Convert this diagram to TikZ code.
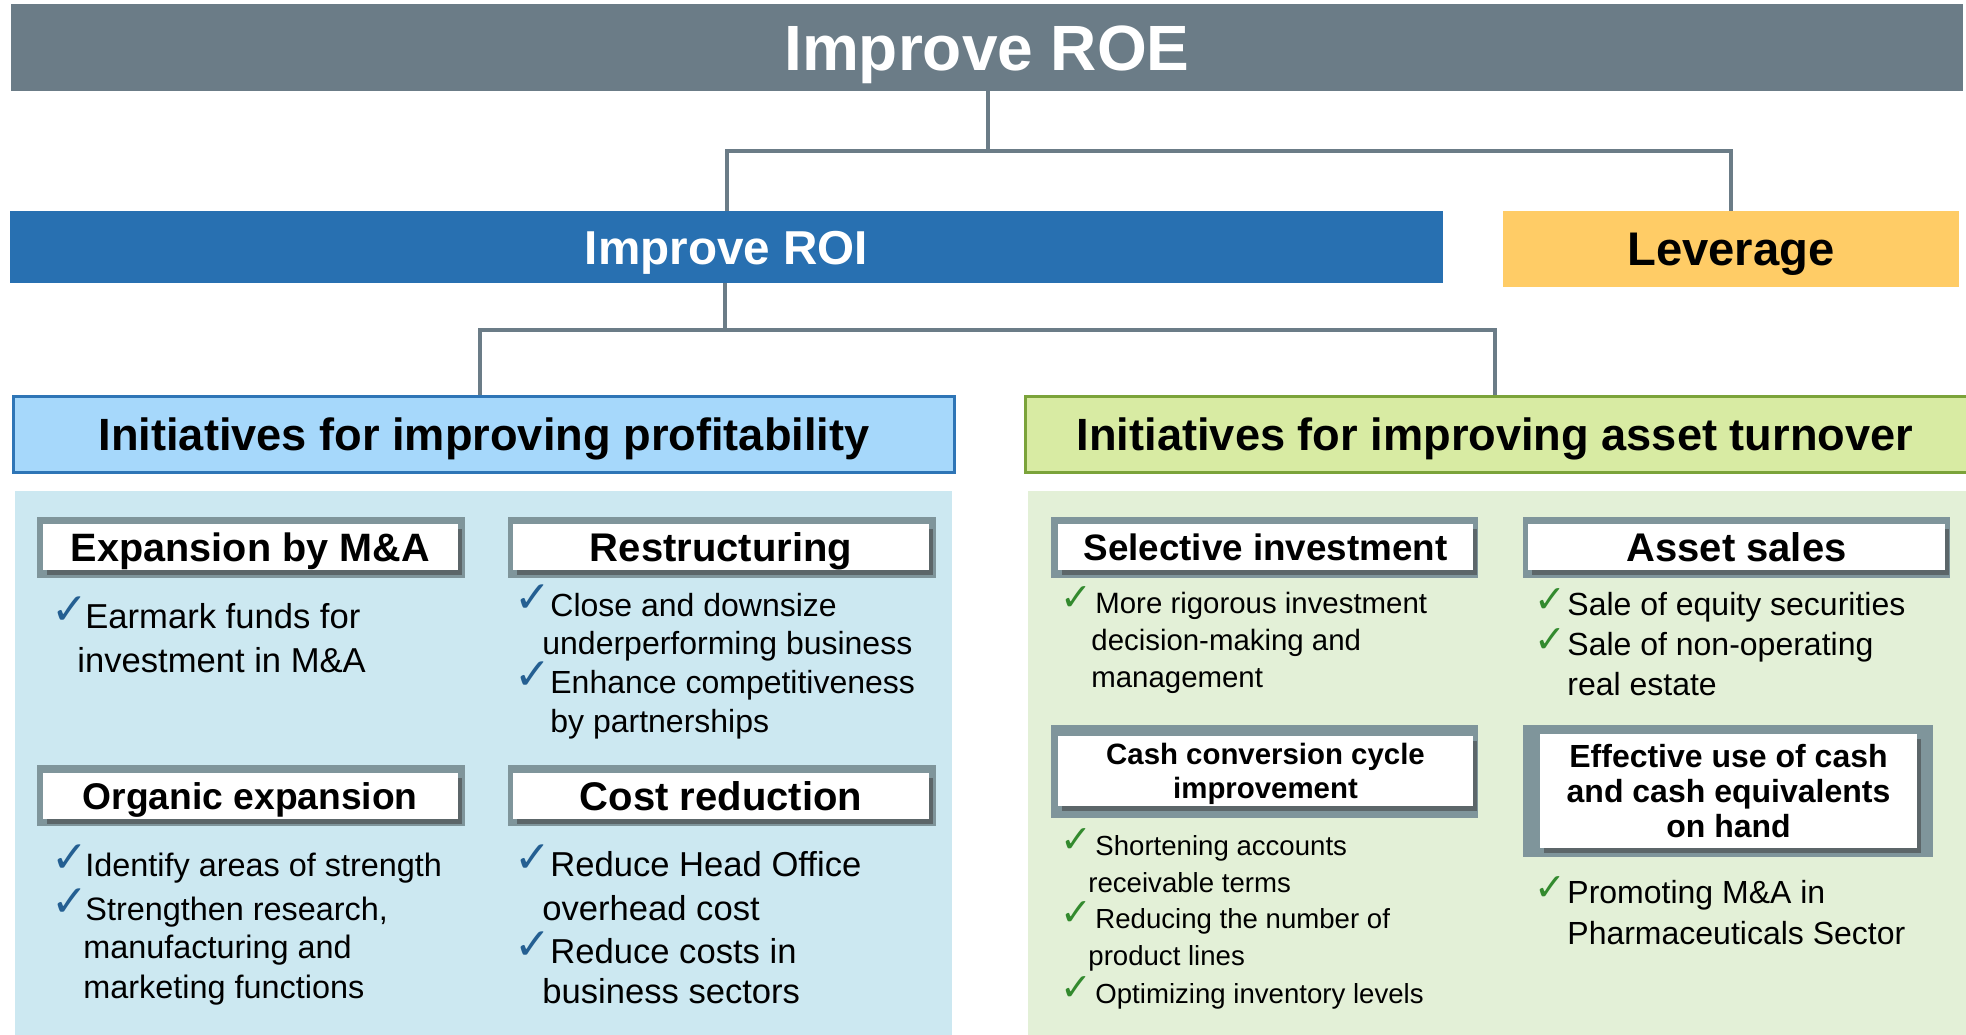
\documentclass[tikz,border=0pt]{standalone}
\usepackage{fontspec}
\setmainfont{Liberation Sans}
\newfontfamily\symfont{DejaVu Sans}
\usetikzlibrary{shadows}
\definecolor{roegray}{HTML}{6B7C87}
\definecolor{roiblue}{HTML}{2870B1}
\definecolor{levyellow}{HTML}{FFCC66}
\definecolor{proffill}{HTML}{A6D8FB}
\definecolor{profdraw}{HTML}{2E75B6}
\definecolor{panelblue}{HTML}{CCE8F1}
\definecolor{turnfill}{HTML}{D8EBA3}
\definecolor{turndraw}{HTML}{7BA33A}
\definecolor{panelgreen}{HTML}{E3F0D7}
\definecolor{framegray}{HTML}{7F959B}
\definecolor{chkblue}{HTML}{245F92}
\definecolor{chkgreen}{HTML}{338A2E}
\newcommand\myfs[1]{\fontsize{#1}{1.2\dimexpr #1pt\relax}\selectfont}
\tikzset{
  bar/.style={inner sep=0pt, anchor=center, font=\bfseries, text depth=0pt},
  framebox/.style={fill=framegray, inner sep=0pt, anchor=center},
  hbox/.style={fill=white, inner sep=0pt, anchor=center, align=center, font=\bfseries,
    drop shadow={shadow xshift=2pt, shadow yshift=-2.5pt, opacity=0.55, fill=black!75}},
  conn/.style={draw=roegray, line width=2pt},
  btext/.style={anchor=base west, inner sep=0pt},
  chkb/.style={anchor=base west, inner sep=0pt, text=chkblue, font=\symfont\fontsize{22}{22}\selectfont},
  chkg/.style={anchor=base west, inner sep=0pt, text=chkgreen, font=\symfont\fontsize{19}{19}\selectfont},
}
\begin{document}
\begin{tikzpicture}[x=0.5pt,y=-0.5pt]
\useasboundingbox (0,0) rectangle (1966,1034);
\clip (0,0) rectangle (1966,1034);
% top bars
\node[bar, fill=roegray, minimum width=976pt, minimum height=43.5pt, text=white, font=\bfseries\myfs{32}, text height=22.9pt] (roe) at (987,47.5) {Improve ROE};
\node[bar, fill=roiblue, minimum width=716.5pt, minimum height=36pt, text=white, font=\bfseries\myfs{23.8}, text height=17pt] (roi) at (726.5,247) {Improve ROI};
\node[bar, fill=levyellow, minimum width=228pt, minimum height=38pt, text=black, font=\bfseries\myfs{23.6}, text height=16.9pt] (lev) at (1731,249) {Leverage};
% connectors
\coordinate (j1) at (988,151);
\coordinate (j2) at (725,330);
\coordinate (j3) at (480,330);
\coordinate (j4) at (1495,330);
\draw[conn] (roe.south -| j1) -- (j1);
\draw[conn] (roi.north) -- (roi.north |- j1) -- (lev.north |- j1) -- (lev.north);
% panels
\fill[panelblue] (15,491) rectangle (952,1040);
\fill[panelgreen] (1028,491) rectangle (1970,1040);
% initiative boxes
\node[bar, fill=proffill, draw=profdraw, line width=1.5pt, minimum width=470.5pt, minimum height=38pt, font=\bfseries\myfs{22.6}, text height=16.2pt] (prof) at (484,434) {Initiatives for improving profitability};
\node[bar, fill=turnfill, draw=turndraw, line width=1.5pt, minimum width=475pt, minimum height=38pt] (turn) at (1500,434) {};
\node[bar, font=\bfseries\myfs{22.6}, text height=16.2pt] (turntxt) at (1495,434) {Initiatives for improving asset turnover};
\draw[conn] (roi.south -| j2) -- (j2);
\draw[conn] (j3 |- prof.north) -- (j3) -- (j4) -- (j4 |- turn.north);
% left frames
\node[framebox, minimum width=213.7pt, minimum height=30.5pt] (f1) at (251,547.5) {};
\node[hbox, minimum width=207.7pt, minimum height=23pt, font=\bfseries\myfs{19.8}, text height=14.2pt, text depth=0pt] (h1) at (250.3,547) {Expansion by M\&A};
\node[framebox, minimum width=214pt, minimum height=30.5pt] (f2) at (722,547.5) {};
\node[hbox, minimum width=208pt, minimum height=23pt, font=\bfseries\myfs{20}, text height=14.3pt, text depth=0pt] (h2) at (721,547) {Restructuring};
\node[framebox, minimum width=213.7pt, minimum height=30.5pt] (f3) at (251,795.5) {};
\node[hbox, minimum width=207.7pt, minimum height=23pt, font=\bfseries\myfs{18.6}, text height=13.3pt, text depth=0pt] (h3) at (250.3,796) {Organic expansion};
\node[framebox, minimum width=214pt, minimum height=30.5pt] (f4) at (722,795.5) {};
\node[hbox, minimum width=208pt, minimum height=23pt, font=\bfseries\myfs{20}, text height=14.3pt, text depth=0pt] (h4) at (721,796) {Cost reduction};
% right frames
\node[framebox, minimum width=213.5pt, minimum height=30.5pt] (f5) at (1264.5,547.5) {};
\node[hbox, minimum width=207.5pt, minimum height=23pt, font=\bfseries\myfs{18.4}, text height=13.2pt, text depth=0pt] (h5) at (1265.5,547) {Selective investment};
\node[framebox, minimum width=213.5pt, minimum height=30.5pt] (f6) at (1736.5,547.5) {};
\node[hbox, minimum width=208.5pt, minimum height=23pt, font=\bfseries\myfs{20}, text height=14.3pt, text depth=0pt] (h6) at (1736.5,547) {Asset sales};
\node[framebox, minimum width=213.5pt, minimum height=46.5pt] (f7) at (1264.5,771.5) {};
\node[hbox, minimum width=207.5pt, minimum height=35pt] (h7) at (1265.5,771) {};
\node[inner sep=0pt, align=center, font=\bfseries\fontsize{14.7}{17}\selectfont] (h7t) at (1265.5,774) {Cash conversion cycle\\improvement};
\node[framebox, minimum width=205pt, minimum height=66pt] (f8) at (1728,791) {};
\node[hbox, minimum width=188.5pt, minimum height=57pt, font=\bfseries\fontsize{16}{17.5}\selectfont] (h8) at (1728.5,791) {Effective use of cash\\and cash equivalents\\on hand};
% Expansion by M&A bullets
\node[chkb] (ce1) at (51,624) {✓};
\node[btext, font=\myfs{17.3}] (e1) at (85,628) {Earmark funds for};
\node[btext, font=\myfs{17.3}] (e2) at (77,672) {investment in M\&A};
% Restructuring
\node[chkb] (cr1) at (514,612) {✓};
\node[btext, font=\myfs{16}] (r1) at (550,616) {Close and downsize};
\node[btext, font=\myfs{16}] (r2) at (542,654) {underperforming business};
\node[chkb] (cr3) at (514,689) {✓};
\node[btext, font=\myfs{16}] (r3) at (550,693) {Enhance competitiveness};
\node[btext, font=\myfs{16}] (r4) at (550,732) {by partnerships};
% Organic expansion
\node[chkb] (co1) at (51,872) {✓};
\node[btext, font=\myfs{16.2}] (o1) at (85,876) {Identify areas of strength};
\node[chkb] (co2) at (51,916) {✓};
\node[btext, font=\myfs{16.2}] (o2) at (85,920) {Strengthen research,};
\node[btext, font=\myfs{16.2}] (o3) at (83,958) {manufacturing and};
\node[btext, font=\myfs{16.2}] (o4) at (83,998) {marketing functions};
% Cost reduction
\node[chkb] (cc1) at (514,872) {✓};
\node[btext, font=\myfs{17.3}] (c1) at (550,876) {Reduce Head Office};
\node[btext, font=\myfs{17.3}] (c2) at (542,920) {overhead cost};
\node[chkb] (cc3) at (514,959) {✓};
\node[btext, font=\myfs{17.3}] (c3) at (550,963) {Reduce costs in};
\node[btext, font=\myfs{17.3}] (c4) at (542,1003) {business sectors};
% Selective investment
\node[chkg] (cs1) at (1060,610) {✓};
\node[btext, font=\myfs{14.7}] (s1) at (1095,613) {More rigorous investment};
\node[btext, font=\myfs{14.7}] (s2) at (1091,650) {decision-making and};
\node[btext, font=\myfs{14.7}] (s3) at (1091,687) {management};
% Asset sales
\node[chkg] (ca1) at (1534,612) {✓};
\node[btext, font=\myfs{16}] (a1) at (1567,615) {Sale of equity securities};
\node[chkg] (ca2) at (1534,652) {✓};
\node[btext, font=\myfs{16}] (a2) at (1567,655) {Sale of non-operating};
\node[btext, font=\myfs{16}] (a3) at (1567,695) {real estate};
% Cash conversion
\node[chkg] (ck1) at (1060,852) {✓};
\node[btext, font=\myfs{13.8}] (k1) at (1095,855) {Shortening accounts};
\node[btext, font=\myfs{13.8}] (k2) at (1088,892) {receivable terms};
\node[chkg] (ck3) at (1060,925) {✓};
\node[btext, font=\myfs{13.8}] (k3) at (1095,928) {Reducing the number of};
\node[btext, font=\myfs{13.8}] (k4) at (1088,965) {product lines};
\node[chkg] (ck5) at (1060,1000) {✓};
\node[btext, font=\myfs{13.8}] (k5) at (1095,1003) {Optimizing inventory levels};
% Effective use
\node[chkg] (cp1) at (1534,900) {✓};
\node[btext, font=\myfs{16}] (p1) at (1567,903) {Promoting M\&A in};
\node[btext, font=\myfs{16}] (p2) at (1567,944) {Pharmaceuticals Sector};
\end{tikzpicture}
\end{document}
